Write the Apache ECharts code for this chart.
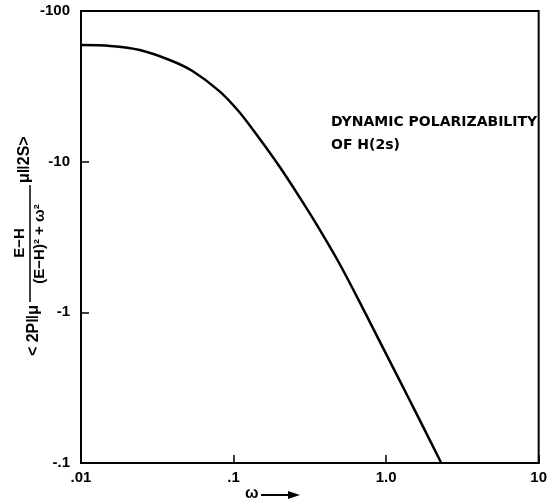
<!DOCTYPE html>
<html>
<head>
<meta charset="utf-8">
<script src="https://cdn.jsdelivr.net/npm/echarts@6/dist/echarts.min.js"></script>
<style>
html,body{margin:0;padding:0;background:#fff;}
#chart{width:550px;height:504px;}
</style>
</head>
<body>
<div id="chart"></div>
<script>
// Data (dynamic polarizability of H(2s))
var omega = [0.01, 0.0155, 0.0243, 0.0381, 0.0538, 0.0807, 0.109, 0.147, 0.199, 0.268, 0.346, 0.489, 0.661, 0.892, 1.205, 1.627, 2.30];
var polarizability = [-59.4, -58.6, -55.1, -47.3, -40.0, -29.4, -21.35, -14.35, -9.35, -5.91, -3.91, -2.15, -1.205, -0.664, -0.366, -0.201, -0.1];
var xTickLabels = {'0.01': '.01', '0.1': '.1', '1': '1.0', '10': '10'};
var yTickLabels = {'100': '-100', '10': '-10', '1': '-1', '0.1': '-.1'};

var FONT = '"Liberation Sans", Arial, sans-serif';
var FONT2 = '"DejaVu Sans", sans-serif';
// log axis holds magnitudes; labels carry the minus sign
var seriesData = omega.map(function (w, i) { return [w, -polarizability[i]]; });

function fmt(map, v) {
  var k = String(parseFloat(Number(v).toPrecision(6)));
  return map[k] !== undefined ? map[k] : '';
}

var chart = echarts.init(document.getElementById('chart'), null, {renderer: 'canvas'});
chart.setOption({
  animation: false,
  backgroundColor: '#fff',
  grid: {left: 81, right: 9, top: 11, bottom: 41, show: true, borderColor: '#000', borderWidth: 2, containLabel: false},
  xAxis: {
    type: 'log', logBase: 10, min: 0.01, max: 10,
    axisLine: {show: true, lineStyle: {color: '#000', width: 2}},
    axisTick: {show: true, inside: true, length: 8, lineStyle: {color: '#000', width: 1.5}},
    minorTick: {show: false},
    splitLine: {show: false},
    axisLabel: {show: true, margin: 7, color: '#000', fontFamily: FONT, fontSize: 15, fontWeight: 'bold',
      formatter: function (v) { return fmt(xTickLabels, v); }}
  },
  yAxis: {
    type: 'log', logBase: 10, min: 0.1, max: 100,
    axisLine: {show: true, lineStyle: {color: '#000', width: 2}},
    axisTick: {show: true, inside: true, length: 8, lineStyle: {color: '#000', width: 1.5}},
    splitLine: {show: false},
    axisLabel: {show: true, margin: 11, color: '#000', fontFamily: FONT, fontSize: 15, fontWeight: 'bold',
      formatter: function (v) { return fmt(yTickLabels, v); }}
  },
  series: [{
    type: 'line', data: seriesData, smooth: 0.3,
    showSymbol: false, symbol: 'none',
    lineStyle: {color: '#000', width: 2.5}
  }],
  graphic: [
    {type: 'text', left: 331, top: 111, style: {text: 'DYNAMIC POLARIZABILITY\nOF H(2s)', fill: '#000', font: 'bold 14px ' + FONT2, lineHeight: 23}},
    {type: 'text', x: 245, y: 494, style: {text: 'ω', fill: '#000', font: 'bold 16px ' + FONT, align: 'left', verticalAlign: 'middle', textAlign: 'left', textVerticalAlign: 'middle'}},
    {type: 'line', shape: {x1: 261, y1: 495, x2: 290, y2: 495}, style: {stroke: '#000', lineWidth: 2}},
    {type: 'polygon', shape: {points: [[288, 491], [300, 495], [288, 499]]}, style: {fill: '#000'}},
    {
      type: 'group', x: 30, y: 245, rotation: Math.PI / 2,
      children: [
        {type: 'line', shape: {x1: -57, y1: 0, x2: 60, y2: 0}, style: {stroke: '#000', lineWidth: 1.5}},
        {type: 'text', style: {text: 'E−H', x: 2, y: -3, fill: '#000', font: 'bold 15px ' + FONT, align: 'center', verticalAlign: 'bottom', textAlign: 'center', textVerticalAlign: 'bottom'}},
        {type: 'text', style: {text: '(E−H)² + ω²', x: 1, y: 2, fill: '#000', font: 'bold 15px ' + FONT, align: 'center', verticalAlign: 'top', textAlign: 'center', textVerticalAlign: 'top'}},
        {type: 'text', style: {text: '< 2P‖μ', x: -60, y: 4, fill: '#000', font: 'bold 16px ' + FONT, align: 'right', verticalAlign: 'middle', textAlign: 'right', textVerticalAlign: 'middle'}},
        {type: 'text', style: {text: 'μ‖2S>', x: 62, y: -5, fill: '#000', font: 'bold 16px ' + FONT, align: 'left', verticalAlign: 'middle', textAlign: 'left', textVerticalAlign: 'middle'}}
      ]
    }
  ]
});
</script>
</body>
</html>
